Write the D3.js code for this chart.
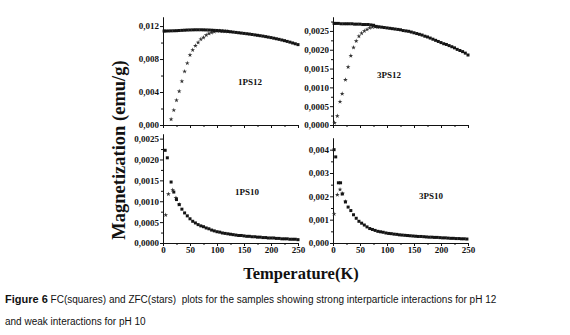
<!DOCTYPE html>
<html>
<head>
<meta charset="utf-8">
<script src="https://cdn.jsdelivr.net/npm/d3@7"></script>
<style>
  body { margin: 0; background: #fff; }
  svg { display: block; }
  .tick text { font-family: "Liberation Serif", "Times New Roman", serif; font-weight: bold; font-size: 9px; fill: #111; }
  .caption { font-family: "Liberation Sans", Arial, sans-serif; font-size: 10px; fill: #111; }
</style>
</head>
<body>
<script>
//Data///////////////////////////////////////////////////////////////////////////////////

// FC (squares) and ZFC (stars), [temperature K, magnetization emu/g]
const fc1PS12 = [[2,.01140],[5,.01140],[10,.01141],[15,.01142],[20,.01143],[25,.01144],[30,.01146],[35,.01148],[40,.01150],[45,.01152],[50,.01153],[55,.01154],[60,.01155],[65,.01155],[70,.01155],[75,.01154],[80,.01153],[85,.01152],[90,.01150],[95,.01148],[100,.01146],[105,.01144],[110,.01141],[115,.01138],[120,.01135],[125,.01131],[130,.01127],[135,.01123],[140,.01119],[145,.01115],[150,.01111],[155,.01107],[160,.01103],[165,.01098],[170,.01093],[175,.01088],[180,.01083],[185,.01078],[190,.01072],[195,.01066],[200,.01060],[205,.01053],[210,.01046],[215,.01039],[220,.01031],[225,.01023],[230,.01014],[235,.01005],[240,.00995],[245,.00985],[250,.00975]];
const zfc1PS12 = [[15,.0007],[20,.0018],[25,.0030],[30,.0041],[35,.0053],[40,.0065],[45,.0075],[50,.0085],[55,.0091],[60,.0096],[65,.0100],[70,.0104],[75,.0106],[80,.0109],[85,.0111],[90,.0112],[95,.0113],[100,.0114],[105,.01140],[110,.01138],[115,.01136],[120,.01133]];

const fc3PS12 = [[2,.00270],[5,.00270],[10,.00270],[15,.00269],[20,.00269],[25,.00269],[30,.00269],[35,.00269],[40,.00268],[45,.00268],[50,.00268],[55,.00267],[60,.00267],[65,.00267],[70,.00266],[75,.00265],[80,.00262],[85,.00261],[90,.00260],[95,.00259],[100,.00258],[105,.00257],[110,.00256],[115,.00255],[120,.00254],[125,.00253],[130,.00251],[135,.00250],[140,.00249],[145,.00247],[150,.00245],[155,.00243],[160,.00241],[165,.00239],[170,.00236],[175,.00234],[180,.00231],[185,.00228],[190,.00225],[195,.00222],[200,.00219],[205,.00216],[210,.00214],[215,.00211],[220,.00208],[225,.00205],[230,.00201],[235,.00198],[240,.00195],[245,.00191],[250,.00186]];
const zfc3PS12 = [[3,.00006],[8,.00024],[13,.00062],[17,.00083],[23,.00120],[28,.00154],[33,.00184],[38,.00206],[43,.00223],[48,.00236],[53,.00244],[58,.00250],[63,.00254],[68,.00258],[73,.00260],[78,.00261],[83,.00260]];

const fc1PS10 = [[4,.00222],[8,.00204],[15,.00146],[20,.00122],[25,.00104],[30,.00092],[35,.00081],[40,.00072],[45,.00065],[50,.00058],[55,.00052],[60,.00048],[65,.00044],[70,.00041],[75,.00039],[80,.00036],[85,.00034],[90,.00031],[95,.00029],[100,.00027],[105,.00026],[110,.00024],[115,.00023],[120,.00022],[125,.00021],[130,.00020],[135,.00019],[140,.00018],[145,.00018],[150,.00017],[155,.00016],[160,.00016],[165,.00015],[170,.00015],[175,.00014],[180,.00014],[185,.00013],[190,.00013],[195,.00012],[200,.00012],[205,.00012],[210,.00011],[215,.00011],[220,.00010],[225,.00010],[230,.00010],[235,.00009],[240,.00009],[245,.00009],[250,.00008]];
const zfc1PS10 = [[5,.00067],[10,.00117],[18,.00127],[24,.00108],[30,.00092]];

const fc3PS10 = [[2,.00400],[5,.00369],[10,.00258],[14,.00258],[17,.00210],[23,.00176],[28,.00154],[33,.00139],[38,.00121],[43,.00106],[48,.00093],[53,.00085],[58,.00077],[63,.00069],[68,.00062],[73,.00058],[78,.00054],[83,.00050],[88,.00048],[93,.00046],[98,.00043],[103,.00041],[108,.00040],[113,.00038],[118,.00037],[123,.00035],[128,.00034],[133,.00033],[138,.00032],[143,.00031],[148,.00030],[153,.00029],[158,.00028],[163,.00028],[168,.00027],[173,.00026],[178,.00025],[183,.00025],[188,.00024],[193,.00024],[198,.00023],[203,.00022],[208,.00022],[213,.00021],[218,.00020],[223,.00020],[228,.00019],[233,.00019],[238,.00018],[243,.00018],[248,.00017]];
const zfc3PS10 = [[2,.00124],[8,.00207],[13,.00229],[18,.00212],[23,.00178]];

// tick values
const xTicks = [0, 50, 100, 150, 200, 250];
const yTicks1PS12 = [0, 0.004, 0.008, 0.012];
const yTicks3PS12 = [0, 0.0005, 0.001, 0.0015, 0.002, 0.0025];
const yTicks1PS10 = [0, 0.0005, 0.001, 0.0015, 0.002, 0.0025];
const yTicks3PS10 = [0, 0.001, 0.002, 0.003, 0.004];

// panel layout (left, right, top, bottom) in px
var panels = [
  { name: "1PS12", fc: fc1PS12, zfc: zfc1PS12, yMax: 0.0131,  ticks: yTicks1PS12, digits: 3, box: [163, 298, 17, 125],  lab: [250, 85],  xLabels: false },
  { name: "3PS12", fc: fc3PS12, zfc: zfc3PS12, yMax: 0.00287, ticks: yTicks3PS12, digits: 4, box: [333, 468, 17, 125],  lab: [389, 78],  xLabels: false },
  { name: "1PS10", fc: fc1PS10, zfc: zfc1PS10, yMax: 0.00261, ticks: yTicks1PS10, digits: 4, box: [163, 298, 134, 243], lab: [247, 195], xLabels: true },
  { name: "3PS10", fc: fc3PS10, zfc: zfc3PS10, yMax: 0.0045,  ticks: yTicks3PS10, digits: 3, box: [333, 468, 138, 243], lab: [431, 199], xLabels: true }
];

var locale = d3.formatLocale({ decimal: ",", thousands: ".", grouping: [3], currency: ["", ""] });

var svg = d3.select("body").append("svg")
    .attr("width", 570)
    .attr("height", 335);

var star = d3.symbol().type(d3.symbolStar).size(7);

panels.forEach(function(p) {
  var x = d3.scaleLinear().domain([0, 250]).range([p.box[0], p.box[1]]);
  var y = d3.scaleLinear().domain([0, p.yMax]).range([p.box[3], p.box[2]]);
  var g = svg.append("g");

  // minor ticks halfway between the major ones
  var xMinor = xTicks.slice(1).map(function(d, i) { return (d + xTicks[i]) / 2; });
  var step = p.ticks[1] - p.ticks[0];
  var yMinor = p.ticks.map(function(d) { return d + step / 2; }).filter(function(d) { return d < p.yMax; });

  g.append("g")
      .attr("transform", "translate(0," + p.box[3] + ")")
      .call(d3.axisBottom(x).tickValues(xMinor).tickSize(2).tickSizeOuter(0).tickFormat(""));
  g.append("g")
      .attr("transform", "translate(0," + p.box[3] + ")")
      .call(d3.axisBottom(x).tickValues(xTicks).tickSize(3).tickSizeOuter(0).tickPadding(1)
        .tickFormat(p.xLabels ? d3.format("d") : ""));

  g.append("g")
      .attr("transform", "translate(" + p.box[0] + ",0)")
      .call(d3.axisLeft(y).tickValues(yMinor).tickSize(2).tickSizeOuter(0).tickFormat(""));
  g.append("g")
      .attr("transform", "translate(" + p.box[0] + ",0)")
      .call(d3.axisLeft(y).tickValues(p.ticks).tickSize(3).tickSizeOuter(0).tickPadding(1)
        .tickFormat(locale.format("." + p.digits + "f")));

  g.selectAll(".domain, .tick line").attr("stroke", "#111");

  // ZFC stars first, FC squares on top
  g.selectAll(".zfc")
    .data(p.zfc)
    .enter().append("path")
      .attr("class", "zfc")
      .attr("d", star)
      .attr("transform", function(d) { return "translate(" + x(d[0]) + "," + y(d[1]) + ")"; })
      .attr("fill", "#333");

  g.selectAll(".fc")
    .data(p.fc)
    .enter().append("rect")
      .attr("class", "fc")
      .attr("x", function(d) { return x(d[0]) - 1.5; })
      .attr("y", function(d) { return y(d[1]) - 1.5; })
      .attr("width", 3)
      .attr("height", 3)
      .attr("fill", "#151515");

  g.append("text")
      .attr("x", p.lab[0])
      .attr("y", p.lab[1])
      .attr("text-anchor", "middle")
      .style("font-family", "'Liberation Serif', serif")
      .style("font-weight", "bold")
      .style("font-size", "9px")
      .style("fill", "#111")
      .text(p.name);
});

// axis titles
svg.append("text")
    .attr("transform", "translate(125,150) rotate(-90)")
    .attr("text-anchor", "middle")
    .style("font-family", "'Liberation Serif', serif")
    .style("font-weight", "bold")
    .style("font-size", "18.5px")
    .style("fill", "#111")
    .text("Magnetization (emu/g)");

svg.append("text")
    .attr("x", 301)
    .attr("y", 279)
    .attr("text-anchor", "middle")
    .style("font-family", "'Liberation Serif', serif")
    .style("font-weight", "bold")
    .style("font-size", "16.5px")
    .style("fill", "#111")
    .text("Temperature(K)");

// caption
var cap = svg.append("text").attr("class", "caption").attr("x", 5).attr("y", 303);
cap.append("tspan").style("font-weight", "bold").style("font-size", "11px").text("Figure 6");
cap.append("tspan").attr("xml:space", "preserve").text(" FC(squares) and ZFC(stars)  plots for the samples showing strong interparticle interactions for pH 12");
svg.append("text").attr("class", "caption").attr("x", 5).attr("y", 325)
    .text("and weak interactions for pH 10");
</script>
</body>
</html>
